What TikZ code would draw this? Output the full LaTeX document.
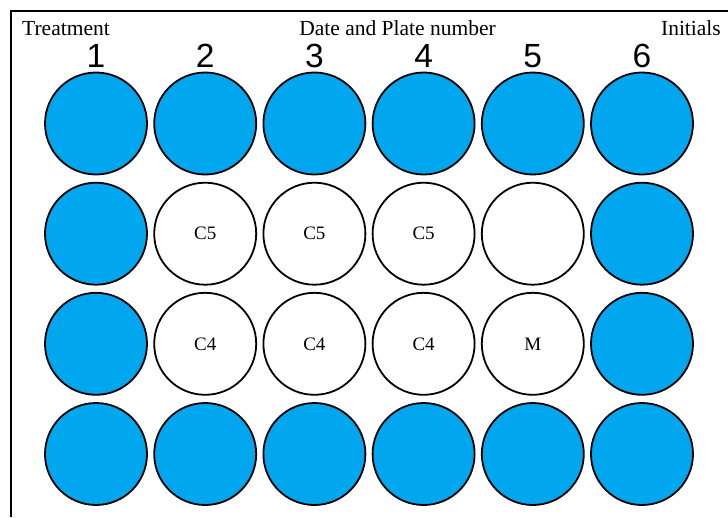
\documentclass[tikz,border=0pt]{standalone}
\usepackage{fontspec}
\setmainfont{Liberation Serif}
\newfontfamily\numfont{Liberation Sans}
\definecolor{wellblue}{RGB}{0,166,238}
\begin{document}
\begin{tikzpicture}[x=1pt,y=-1pt,
  well/.style={circle,draw=black,line width=1.8pt,minimum size=102pt,inner sep=0pt,font=\fontsize{19}{22}\selectfont},
  bluewell/.style={well,fill=wellblue},
  colnum/.style={anchor=base,font=\numfont\fontsize{33.5}{36}\selectfont,inner sep=0pt},
  head/.style={font=\fontsize{21.5}{24}\selectfont,inner sep=0pt}]
\useasboundingbox (0,0) rectangle (728,517);
\draw[line width=2pt] (11,517) -- (11,10.5) -- (728,10.5);
\node[head,anchor=base west] (treat) at (22,35) {Treatment};
\node[head,anchor=base] (date) at (397.5,35) {Date and Plate number};
\node[head,anchor=base east] (init) at (721,35) {Initials};
\foreach \c/\x in {1/96,2/205.2,3/314.4,4/423.6,5/532.8,6/642}{
  \node[colnum] (n\c) at (\x,67) {\c};
}
% row 1 and row 4
\foreach \r/\y in {1/123.5,4/454}{
  \foreach \c/\x in {1/96,2/205.2,3/314.4,4/423.6,5/532.8,6/642}{
    \node[bluewell] (w\r\c) at (\x,\y) {};
  }
}
% rows 2 and 3
\node[bluewell] (w21) at (96,233.7) {};
\node[well] (w22) at (205.2,233.7) {C5};
\node[well] (w23) at (314.4,233.7) {C5};
\node[well] (w24) at (423.6,233.7) {C5};
\node[well] (w25) at (532.8,233.7) {};
\node[bluewell] (w26) at (642,233.7) {};
\node[bluewell] (w31) at (96,343.8) {};
\node[well] (w32) at (205.2,343.8) {C4};
\node[well] (w33) at (314.4,343.8) {C4};
\node[well] (w34) at (423.6,343.8) {C4};
\node[well] (w35) at (532.8,343.8) {M};
\node[bluewell] (w36) at (642,343.8) {};
\end{tikzpicture}
\end{document}
